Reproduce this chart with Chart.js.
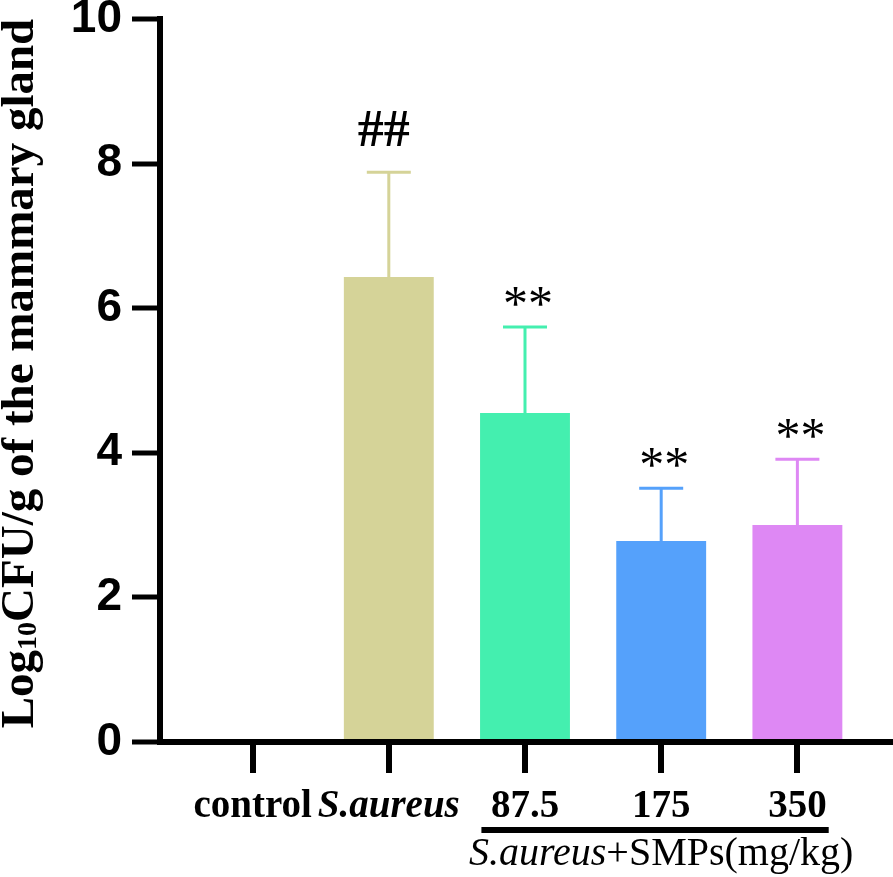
<!DOCTYPE html>
<html lang="en">
<head>
    <meta charset="UTF-8">
    <title>Log10 CFU/g of the mammary gland</title>
    <style>
        body {
            margin: 0;
            padding: 0;
            background-color: #fff;
        }
        .chart-container {
            position: relative;
            width: 893px;
            height: 877px;
        }
    </style>
</head>
<body>
    <div class="chart-container">
        <canvas id="cfuChart" width="893" height="877"></canvas>
    </div>
    <script src="https://cdn.jsdelivr.net/npm/chart.js@4.4.1/dist/chart.umd.min.js"></script>
    <script>
        // values
        const groups = ['control', 'S.aureus', '87.5', '175', '350'];
        const means = [0, 6.43, 4.55, 2.78, 3.00];
        const sds = [0, 1.45, 1.19, 0.73, 0.91];
        const marks = ['', '##', '**', '**', '**'];
        const barColors = ['#d5d398', '#d5d398', '#44efaf', '#55a1fb', '#de88f4'];
        const yTicks = [0, 2, 4, 6, 8, 10];
        const groupTitle = ['S.aureus', '+SMPs(mg/kg)'];

        const serif = '"Liberation Serif", "Times New Roman", serif';

        // error bars (mean + SD, upper side only) and significance marks
        const errorBars = {
            id: 'errorBars',
            afterDatasetsDraw(chart) {
                const ctx = chart.ctx;
                const x = chart.scales.x, y = chart.scales.y;
                ctx.save();
                means.forEach((m, i) => {
                    if (!m) return;
                    const px = x.getPixelForValue(i);
                    const top = y.getPixelForValue(m + sds[i]);
                    ctx.strokeStyle = barColors[i];
                    ctx.lineWidth = 3;
                    ctx.beginPath();
                    ctx.moveTo(px, y.getPixelForValue(m));
                    ctx.lineTo(px, top);
                    ctx.moveTo(px - 22, top);
                    ctx.lineTo(px + 22, top);
                    ctx.stroke();

                    if (marks[i]) {
                        ctx.fillStyle = '#000';
                        ctx.textAlign = 'center';
                        ctx.textBaseline = 'middle';
                        if (marks[i] === '##') {
                            ctx.font = 'bold 52px ' + serif;
                            ctx.fillText(marks[i], px - 5, top - 40);
                        } else {
                            ctx.font = '50px ' + serif;
                            ctx.fillText(marks[i], px + 3, top - 20);
                        }
                    }
                });
                ctx.restore();
            }
        };

        // rotated y title with subscript, group bar and caption under the axis
        const extraText = {
            id: 'extraText',
            afterDraw(chart) {
                const ctx = chart.ctx;
                const x = chart.scales.x;
                const area = chart.chartArea;
                ctx.save();

                // y title
                const parts = [
                    {t: 'Log', f: 'bold 47px ' + serif, dy: 0},
                    {t: '10', f: 'bold 28px ' + serif, dy: 3},
                    {t: 'CFU/g of the mammary gland', f: 'bold 47px ' + serif, dy: 0}
                ];
                let total = 0;
                parts.forEach(p => { ctx.font = p.f; p.w = ctx.measureText(p.t).width; total += p.w; });
                ctx.translate(33, (area.top + area.bottom) / 2 - 7);
                ctx.rotate(-Math.PI / 2);
                ctx.fillStyle = '#000';
                ctx.textBaseline = 'alphabetic';
                ctx.textAlign = 'left';
                let cx = -total / 2;
                parts.forEach(p => {
                    ctx.font = p.f;
                    ctx.fillText(p.t, cx, p.dy);
                    cx += p.w;
                });
                ctx.setTransform(1, 0, 0, 1, 0, 0);

                // group underline
                ctx.strokeStyle = '#000';
                ctx.lineWidth = 6;
                ctx.beginPath();
                ctx.moveTo(x.getPixelForValue(1.68), 830);
                ctx.lineTo(x.getPixelForValue(4.23), 830);
                ctx.stroke();

                // group caption
                const capFonts = ['italic 40px ' + serif, '40px ' + serif];
                let w = 0;
                const widths = groupTitle.map((t, i) => { ctx.font = capFonts[i]; const m = ctx.measureText(t).width; w += m; return m; });
                let sx = x.getPixelForValue(3) - w / 2;
                ctx.textBaseline = 'middle';
                groupTitle.forEach((t, i) => {
                    ctx.font = capFonts[i];
                    ctx.fillText(t, sx, 854);
                    sx += widths[i];
                });
                ctx.restore();
            }
        };

        const ctx = document.getElementById('cfuChart').getContext('2d');
        new Chart(ctx, {
            type: 'bar',
            data: {
                datasets: [{
                    data: means.map((m, i) => ({x: i, y: m})),
                    backgroundColor: barColors,
                    borderWidth: 0,
                    barPercentage: 0.66,
                    categoryPercentage: 1
                }]
            },
            options: {
                responsive: false,
                animation: false,
                devicePixelRatio: 1,
                layout: {padding: {top: 19, right: 3, left: 0, bottom: 0}},
                plugins: {
                    legend: {display: false},
                    tooltip: {enabled: false}
                },
                scales: {
                    x: {
                        type: 'linear',
                        min: -0.68,
                        max: 4.68,
                        offset: false,
                        z: 1,
                        border: {color: '#000', width: 6},
                        grid: {
                            offset: false,
                            drawOnChartArea: false,
                            drawTicks: true,
                            tickLength: 31,
                            tickWidth: 6,
                            lineWidth: 6,
                            tickColor: '#000'
                        },
                        afterBuildTicks(scale) {
                            scale.ticks = groups.map((g, i) => ({value: i}));
                        },
                        afterFit(scale) {
                            scale.height = 135;
                            scale.paddingLeft = 0;
                            scale.paddingRight = 0;
                        },
                        ticks: {
                            autoSkip: false,
                            maxRotation: 0,
                            padding: 11,
                            color: '#000',
                            callback: v => groups[v],
                            font: c => ({
                                family: serif,
                                size: 39,
                                weight: 'bold',
                                style: c.index === 1 ? 'italic' : 'normal'
                            })
                        }
                    },
                    y: {
                        min: 0,
                        max: 10,
                        z: 1,
                        border: {color: '#000', width: 6},
                        grid: {
                            drawOnChartArea: false,
                            drawTicks: true,
                            tickLength: 28,
                            tickWidth: 5,
                            lineWidth: 6,
                            tickColor: '#000'
                        },
                        afterBuildTicks(scale) {
                            scale.ticks = yTicks.map(v => ({value: v}));
                        },
                        afterFit(scale) {
                            scale.width = 160;
                            scale.paddingTop = 0;
                            scale.paddingBottom = 0;
                        },
                        ticks: {
                            padding: 10,
                            color: '#000',
                            font: {family: '"Liberation Sans", Arial, sans-serif', size: 46, weight: 'bold'}
                        }
                    }
                }
            },
            plugins: [errorBars, extraText]
        });
    </script>
</body>
</html>
